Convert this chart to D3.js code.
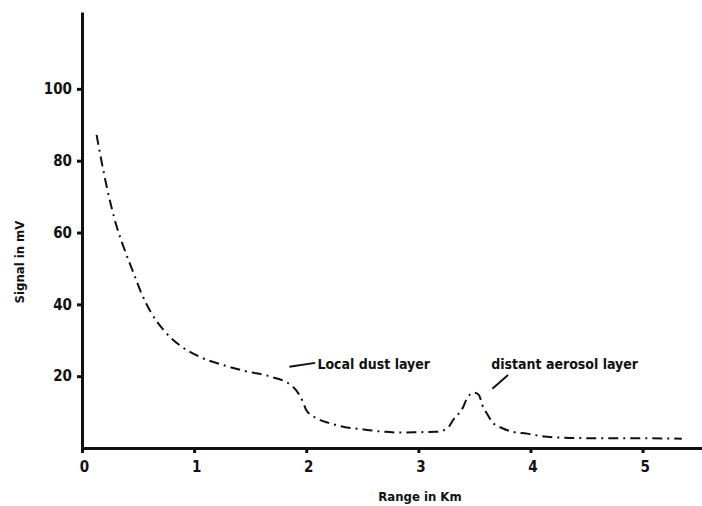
<!DOCTYPE html>
<html lang="en">
<head>
    <meta charset="utf8">
    <script type="text/javascript" src="https://d3js.org/d3.v7.min.js"></script>
    <title>Lidar signal vs range</title>
    <style>
        body { margin: 0; background: #fff; }
        text { font-family: "DejaVu Sans Condensed", "DejaVu Sans", sans-serif; font-weight: bold; fill: #111; }
    </style>
</head>
<body>
    <div class="chart"></div>
</body>
<script type="text/javascript">
    // data
    var rangeKm = [0.13, 0.22, 0.31, 0.38, 0.46, 0.53, 0.62, 0.74, 0.89, 1.05, 1.26, 1.47, 1.68, 1.88, 1.97, 2.0, 2.09, 2.2, 2.33, 2.5, 2.7, 2.85, 3.0, 3.16, 3.26, 3.31, 3.4, 3.44, 3.5, 3.54, 3.57, 3.61, 3.66, 3.75, 3.84, 3.97, 4.08, 4.2, 4.35, 4.7, 5.0, 5.35];
    var signalMv = [87.2, 72.8, 61.6, 55.2, 48.7, 43.1, 37.5, 32.4, 28.2, 25.4, 23.1, 21.3, 19.9, 17.1, 12.9, 10.6, 8.3, 7.0, 5.9, 5.2, 4.5, 4.3, 4.4, 4.5, 5.5, 7.8, 11.4, 14.2, 15.4, 14.8, 12, 9.7, 7.2, 5.5, 4.5, 4.0, 3.4, 3.0, 2.8, 2.7, 2.7, 2.6];
    var xTicks = [0, 1, 2, 3, 4, 5];
    var yTicks = [20, 40, 60, 80, 100];
    var notes = [
        {label: "Local dust layer", x: 2.1, y: 22, lx1: 1.85, ly1: 22.6, lx2: 2.08, ly2: 23.7},
        {label: "distant aerosol layer", x: 3.65, y: 22, lx1: 3.66, ly1: 16.5, lx2: 3.8, ly2: 20.3}
    ];

    var width = 702, height = 506;
    var svg = d3.select("body div.chart")
        .append("svg")
        .attr("width", width)
        .attr("height", height);

    // scales
    var x = d3.scaleLinear().domain([0, 5.53]).range([82, 702]);
    var y = d3.scaleLinear().domain([0, 121.4]).range([448, 12]);

    // x axis
    var gx = svg.append("g")
        .attr("transform", "translate(0," + y(0) + ")")
        .call(d3.axisBottom(x).tickValues(xTicks).tickSizeInner(5).tickSizeOuter(0).tickPadding(8).tickFormat(d3.format("d")));
    gx.select(".domain").attr("stroke", "#111").attr("stroke-width", 3);
    gx.selectAll(".tick line").attr("stroke", "#111").attr("stroke-width", 3);
    gx.selectAll(".tick text").attr("font-size", 15).attr("font-family", null).attr("dx", 2);

    // y axis
    var gy = svg.append("g")
        .attr("transform", "translate(" + x(0) + ",0)")
        .call(d3.axisLeft(y).tickValues(yTicks).tickSizeInner(5).tickSizeOuter(0).tickPadding(5));
    gy.select(".domain").attr("stroke", "#111").attr("stroke-width", 3);
    gy.selectAll(".tick line").attr("stroke", "#111").attr("stroke-width", 3);
    gy.selectAll(".tick text").attr("font-size", 15).attr("font-family", null);

    // axis titles
    svg.append("text")
        .attr("x", 420).attr("y", 501)
        .attr("text-anchor", "middle")
        .attr("font-size", 13)
        .text("Range in Km");
    svg.append("text")
        .attr("transform", "translate(24,262) rotate(-90)")
        .attr("text-anchor", "middle")
        .attr("font-size", 13)
        .text("Signal in mV");

    // signal curve, dash-dot
    var line = d3.line()
        .x(function(d){ return x(d[0]); })
        .y(function(d){ return y(d[1]); })
        .curve(d3.curveMonotoneX);
    svg.append("path")
        .datum(d3.zip(rangeKm, signalMv))
        .attr("d", line)
        .attr("fill", "none")
        .attr("stroke", "#111")
        .attr("stroke-width", 2)
        .attr("stroke-dasharray", "10 5 2 5");

    // annotations
    notes.forEach(function(n){
        svg.append("line")
            .attr("x1", x(n.lx1)).attr("y1", y(n.ly1))
            .attr("x2", x(n.lx2)).attr("y2", y(n.ly2))
            .attr("stroke", "#111").attr("stroke-width", 2);
        svg.append("text")
            .attr("x", x(n.x)).attr("y", y(n.y))
            .attr("font-size", 14)
            .text(n.label);
    });
</script>
</html>
